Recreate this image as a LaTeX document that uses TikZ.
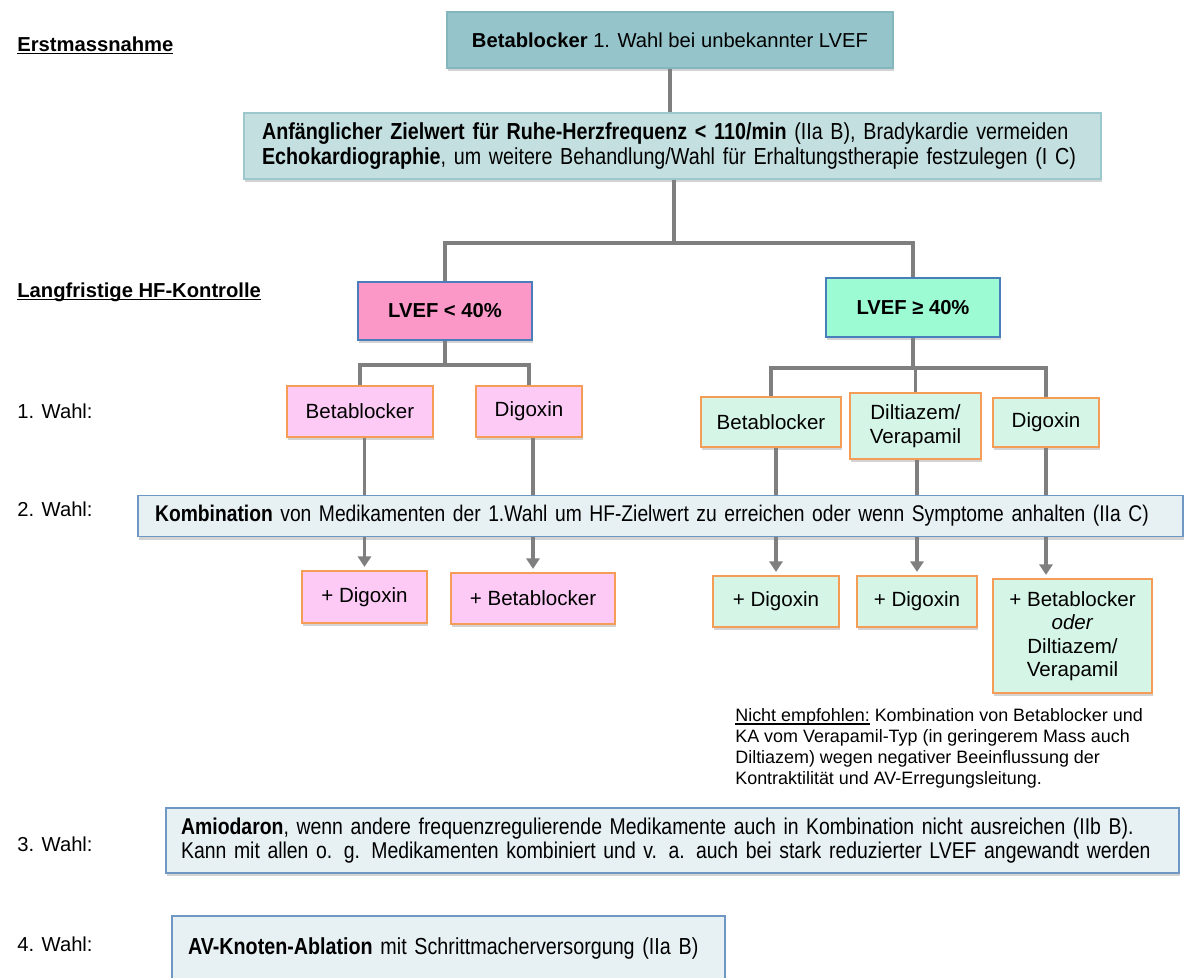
\documentclass[tikz,border=0pt]{standalone}
\usepackage{fontspec}
\setmainfont{Liberation Sans}
\newfontfamily\narrowfont[FakeStretch=0.85,WordSpace=0.8]{Liberation Sans}
\usetikzlibrary{shadows,arrows.meta}
\pgfdeclarelayer{background}
\pgfsetlayers{background,main}
\definecolor{linegray}{HTML}{7F7F7F}
\definecolor{topfill}{HTML}{95C4CB}
\definecolor{topdraw}{HTML}{84B6BE}
\definecolor{twofill}{HTML}{C3DFE0}
\definecolor{twodraw}{HTML}{9CC7CC}
\definecolor{pinkbig}{HTML}{FB98C8}
\definecolor{mintbig}{HTML}{9CFBD3}
\definecolor{bluedraw}{HTML}{4A7EBB}
\definecolor{pinksmall}{HTML}{FDCAF6}
\definecolor{greensmall}{HTML}{D5F5E6}
\definecolor{orangedraw}{HTML}{F59D56}
\definecolor{lightfill}{HTML}{E7F0F3}
\definecolor{lightdraw}{HTML}{6F97C4}
\newcommand\myul[1]{\setbox0\hbox{#1}\rlap{\rule[-1.8pt]{\wd0}{0.9pt}}\box0\relax}
\newcommand\narrowtext{\narrowfont\fontsize{13.2}{14.2}\selectfont}
\tikzset{
  conn/.style={draw=linegray, line width=2.2pt},
  arr/.style={conn, -{Triangle[width=7.5pt,length=6pt]}, shorten >=2pt},
  boxbase/.style={draw, line width=0.7pt, inner sep=0pt, align=center,
    drop shadow={shadow xshift=0.6pt, shadow yshift=-1.8pt, opacity=0.35}},
  topbox/.style={boxbase, fill=topfill, draw=topdraw},
  twobox/.style={boxbase, fill=twofill, draw=twodraw},
  bigpink/.style={boxbase, fill=pinkbig, draw=bluedraw, font=\fontsize{11.5}{13}\selectfont\bfseries},
  bigmint/.style={boxbase, fill=mintbig, draw=bluedraw, font=\fontsize{11.5}{13}\selectfont\bfseries},
  smallpink/.style={boxbase, fill=pinksmall, draw=orangedraw, font=\fontsize{11.7}{14}\selectfont},
  smallgreen/.style={boxbase, fill=greensmall, draw=orangedraw, font=\fontsize{11.7}{13.4}\selectfont},
  lightbox/.style={boxbase, fill=lightfill, draw=lightdraw, align=left},
  heading/.style={anchor=base west, inner sep=0pt, font=\fontsize{11.5}{13}\selectfont\bfseries},
  wahl/.style={anchor=base west, inner sep=0pt, font=\fontsize{11.5}{13}\selectfont},
}
\begin{document}
\begin{tikzpicture}[x=0.02cm,y=-0.02cm]
\useasboundingbox (0,0) rectangle (1185,977);
% headings
\node[heading] (h1) at (17,51) {\myul{Erstmassnahme}};
\node[heading] (h2) at (17,297) {\myul{Langfristige HF-Kontrolle}};
\node[wahl] (w1) at (17,418) {1. Wahl:};
\node[wahl] (w2) at (17,516) {2. Wahl:};
\node[wahl] (w3) at (17,851) {3. Wahl:};
\node[wahl] (w4) at (17,951) {4. Wahl:};
% top boxes
\node[topbox, minimum width=8.92cm, minimum height=1.12cm, font=\fontsize{11.5}{13}\selectfont] (top) at (670,40)
  {\textbf{Betablocker} 1. Wahl bei unbekannter LVEF};
\node[twobox, minimum height=1.32cm, text width=16.42cm, inner xsep=0.36cm, align=left, font=\narrowtext] (box2) at (672.5,146)
  {\mbox{\textbf{Anfänglicher Zielwert für Ruhe-Herzfrequenz < 110/min} (IIa B), Bradykardie vermeiden}\\
   \mbox{\textbf{Echokardiographie}, um weitere Behandlung/Wahl für Erhaltungstherapie festzulegen (I C)}};
% LVEF boxes
\node[bigpink, minimum width=3.48cm, minimum height=1.16cm] (lvA) at (445,311) {LVEF < 40\%};
\node[bigmint, minimum width=3.48cm, minimum height=1.18cm] (lvB) at (913,307.5) {LVEF ≥ 40\%};
% first choice
\node[smallpink, minimum width=2.92cm, minimum height=1.02cm] (bbA) at (360,411.5) {Betablocker};
\node[smallpink, minimum width=2.12cm, minimum height=1.02cm] (dgA) at (529,411.5) {Digoxin};
\node[smallgreen, minimum width=2.80cm, minimum height=1.00cm] (bbB) at (771,422) {Betablocker};
\node[smallgreen, minimum width=2.62cm, minimum height=1.32cm] (dvB) at (915.5,426) {Diltiazem/\\Verapamil};
\node[smallgreen, minimum width=2.12cm, minimum height=0.98cm] (dgB) at (1046,422.5) {Digoxin};
% second choice
\node[lightbox, minimum height=0.82cm, text width=20.22cm, inner xsep=0.34cm, font=\narrowfont\fontsize{12.9}{14}\selectfont] (comb) at (660.5,516)
  {\mbox{\textbf{Kombination} von Medikamenten der 1.Wahl um HF-Zielwert zu erreichen oder wenn Symptome anhalten (IIa C)}};
\node[smallpink, minimum width=2.50cm, minimum height=1.04cm] (pdA) at (364.5,597) {+ Digoxin};
\node[smallpink, minimum width=3.28cm, minimum height=1.02cm] (pbA) at (533,598.5) {+ Betablocker};
\node[smallgreen, minimum width=2.52cm, minimum height=1.02cm] (pdB1) at (776,601.5) {+ Digoxin};
\node[smallgreen, minimum width=2.40cm, minimum height=1.02cm] (pdB2) at (917,601.5) {+ Digoxin};
\node[smallgreen, minimum width=3.18cm, minimum height=2.28cm] (pbB3) at (1072.5,636)
  {+ Betablocker\\\textit{oder}\\Diltiazem/\\Verapamil};
% note
\node[anchor=north west, inner sep=0pt, align=left, font=\fontsize{10.2}{11.9}\selectfont] (note) at (735,708)
  {\myul{Nicht empfohlen:} Kombination von Betablocker und\\
   KA vom Verapamil-Typ (in geringerem Mass auch\\
   Diltiazem) wegen negativer Beeinflussung der\\
   Kontraktilität und AV-Erregungsleitung.};
% third / fourth
\node[lightbox, minimum height=1.30cm, text width=19.66cm, inner xsep=0.30cm, font=\narrowfont\fontsize{13}{13.8}\selectfont] (amio) at (672.5,840.5)
  {\mbox{\textbf{Amiodaron}, wenn andere frequenzregulierende Medikamente auch in Kombination nicht ausreichen (IIb B).}\\
   \mbox{Kann mit allen o. g. Medikamenten kombiniert und v. a. auch bei stark reduzierter LVEF angewandt werden}};
\node[lightbox, minimum height=1.28cm, text width=10.42cm, inner xsep=0.32cm, font=\narrowtext] (av) at (448.5,948)
  {\mbox{\textbf{AV-Knoten-Ablation} mit Schrittmacherversorgung (IIa B)}};
% connectors
\begin{pgfonlayer}{background}
\draw[conn] (top.south) -- (top.south |- box2.north);
\coordinate (j1) at (674,243);
\draw[conn] (box2.south -| j1) -- (j1);
\draw[conn] (lvA.north) |- (j1) -| (lvB.north);
\coordinate (j2) at (445,365);
\draw[conn] (lvA.south) -- (j2);
\draw[conn] (bbA.north) |- (j2) -| (dgA.north);
\coordinate (j3) at (913,368);
\draw[conn] (lvB.south) -- (j3);
\draw[conn] (bbB.north) |- (j3) -| (dgB.north);
\draw[conn] (dvB.north) -- (dvB.north |- j3);
\draw[arr] (bbA.south -| pdA.north) -- (pdA.north);
\draw[arr] (dgA.south -| pbA.north) -- (pbA.north);
\draw[arr] (bbB.south -| pdB1.north) -- (pdB1.north);
\draw[arr] (dvB.south -| pdB2.north) -- (pdB2.north);
\draw[arr] (dgB.south) -- (dgB.south |- pbB3.north);
\end{pgfonlayer}
\end{tikzpicture}
\end{document}
